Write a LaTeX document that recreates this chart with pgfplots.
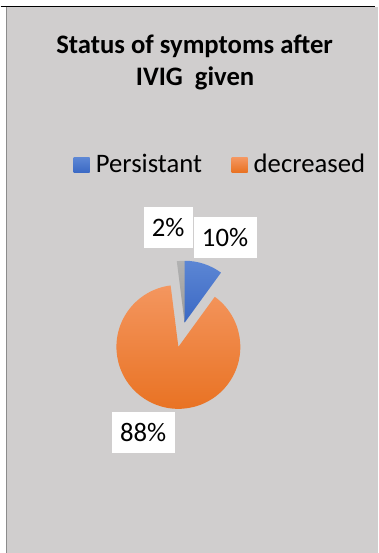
\documentclass[border=0pt]{standalone}
\usepackage{pgfplots}
\pgfplotsset{compat=1.18}
\usepackage{pgfplotstable}
\usepackage{fontspec}
\setmainfont{Carlito}
\definecolor{bg}{HTML}{D0CECE}
\definecolor{blueT}{HTML}{5C86D4}
\definecolor{blueB}{HTML}{3A68C4}
\definecolor{orangeT}{HTML}{F4965F}
\definecolor{orangeB}{HTML}{E8701F}
\definecolor{grayT}{HTML}{B2B2B2}
\definecolor{grayB}{HTML}{9A9A9A}
\pgfplotstableread{
label value
Persistant 10
decreased 88
other 2
}\piedata
\begin{document}
\begin{tikzpicture}
\pgfplotstablegetelem{0}{value}\of\piedata \pgfmathsetmacro\va{\pgfplotsretval}
\pgfplotstablegetelem{1}{value}\of\piedata \pgfmathsetmacro\vb{\pgfplotsretval}
\pgfplotstablegetelem{2}{value}\of\piedata \pgfmathsetmacro\vc{\pgfplotsretval}
\pgfmathsetmacro\aA{90}
\pgfmathsetmacro\aB{90-3.6*\va}
\pgfmathsetmacro\aC{\aB-3.6*\vb}
\pgfmathsetmacro\aD{\aC-3.6*\vc}
\pgfmathsetmacro\midB{(\aB+\aC)/2}
\begin{axis}[scale only axis, width=378pt, height=553pt,
  xmin=0, xmax=378, ymin=0, ymax=553, y dir=reverse,
  hide axis, clip=false]
% background and frame
\fill[white] (axis cs:0,0) rectangle (axis cs:378,553);
\fill[bg] (axis cs:6,7) rectangle (axis cs:378,553);
\draw[black, line width=1.5pt] (axis cs:0,6.3) -- (axis cs:375,6.3);
\draw[black!45, line width=1pt] (axis cs:5.5,7) -- (axis cs:5.5,553);
% title
\node[anchor=base, font=\fontsize{26.7}{32}\selectfont\bfseries] at (axis cs:194,53.3) {Status of symptoms after};
\node[anchor=base, font=\fontsize{26.7}{32}\selectfont\bfseries] at (axis cs:194.5,85.5) {IVIG\ \ given};
% legend
\shade[top color=blueT, bottom color=blueB] (axis cs:73,158) rectangle (axis cs:89,173);
\node[anchor=base west, inner sep=0, font=\fontsize{26.7}{32}\selectfont] at (axis cs:95,172.7) {Persistant};
\shade[top color=orangeT, bottom color=orangeB] (axis cs:231,158) rectangle (axis cs:247,173);
\node[anchor=base west, inner sep=0, font=\fontsize{26.7}{32}\selectfont] at (axis cs:253,172.7) {decreased};
% slices
\shade[top color=blueT, bottom color=blueB] (axis cs:184,323) -- ++(\aA:62pt) arc[start angle=\aA, end angle=\aB, radius=62pt] -- cycle;
\shade[top color=orangeT, bottom color=orangeB] ([shift={(\midB:25pt)}]axis cs:184,323) -- ++(\aB:62pt) arc[start angle=\aB, end angle=\aC, radius=62pt] -- cycle;
\shade[top color=grayT, bottom color=grayB] (axis cs:184,323) -- ++(\aC:62pt) arc[start angle=\aC, end angle=\aD, radius=62pt] -- cycle;
% data labels
\node[fill=white, minimum width=49pt, minimum height=41pt, inner sep=0, font=\fontsize{26.7}{32}\selectfont] at (axis cs:167.5,227.5) {2\%};
\node[fill=white, minimum width=63pt, minimum height=41pt, inner sep=0, font=\fontsize{26.7}{32}\selectfont] at (axis cs:224.5,237.5) {10\%};
\node[fill=white, minimum width=63pt, minimum height=41pt, inner sep=0, font=\fontsize{26.7}{32}\selectfont] at (axis cs:142.5,433.3) {88\%};
\end{axis}
\end{tikzpicture}
\end{document}
